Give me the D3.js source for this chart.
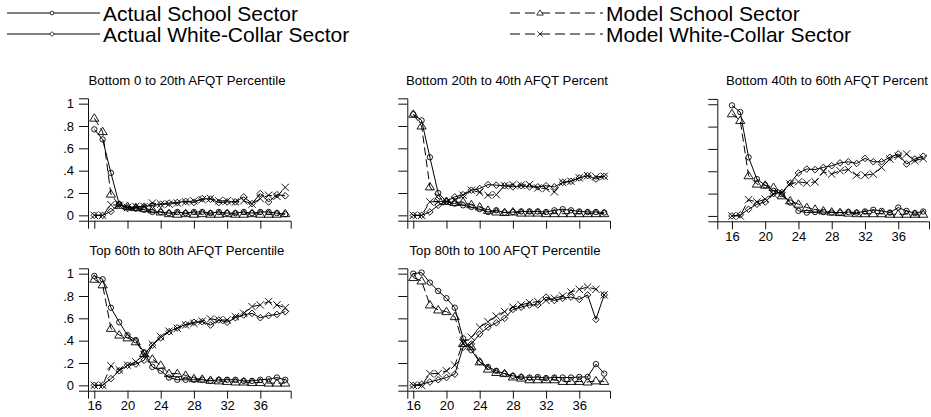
<!DOCTYPE html>
<html>
<head>
<meta charset="utf-8">
<script src="https://cdn.jsdelivr.net/npm/d3@7"></script>
<style>
  body { margin: 0; background: #fff; }
  svg { display: block; }
  text { font-family: "Liberation Sans", Arial, sans-serif; fill: #000; }
</style>
</head>
<body>
<div id="chart"></div>
<script>
// Ages on the x axis
const ages = [16, 17, 18, 19, 20, 21, 22, 23, 24, 25, 26, 27, 28, 29, 30, 31, 32, 33, 34, 35, 36, 37, 38, 39];

const panelTitles = [
  "Bottom 0 to 20th AFQT Percentile",
  "Bottom 20th to 40th AFQT Percent",
  "Bottom 40th to 60th AFQT Percent",
  "Top 60th to 80th AFQT Percentile",
  "Top 80th to 100 AFQT Percentile"
];

const yTickValues = [0, 0.2, 0.4, 0.6, 0.8, 1];
const yTickLabels = ["0", ".2", ".4", ".6", ".8", "1"];
const xTickValues = [16, 20, 24, 28, 32, 36];

const seriesNames = ["Actual School Sector", "Actual White-Collar Sector", "Model School Sector", "Model White-Collar Sector"];

// one row per panel (ages 16..39)
const schoolActual = [
  [0.77, 0.68, 0.38, 0.10, 0.07, 0.06, 0.05, 0.03, 0.03, 0.02, 0.03, 0.02, 0.03, 0.03, 0.02, 0.03, 0.02, 0.02, 0.03, 0.02, 0.03, 0.03, 0.02, 0.01],
  [0.905, 0.85, 0.52, 0.20, 0.125, 0.105, 0.09, 0.075, 0.055, 0.03, 0.045, 0.025, 0.03, 0.035, 0.035, 0.035, 0.03, 0.045, 0.055, 0.045, 0.035, 0.03, 0.03, 0.025],
  [0.99, 0.93, 0.525, 0.33, 0.275, 0.225, 0.195, 0.12, 0.045, 0.03, 0.035, 0.035, 0.03, 0.03, 0.035, 0.03, 0.04, 0.055, 0.045, 0.03, 0.075, 0.045, 0.025, 0.04],
  [0.98, 0.95, 0.695, 0.565, 0.45, 0.405, 0.295, 0.165, 0.13, 0.07, 0.05, 0.05, 0.05, 0.05, 0.04, 0.05, 0.05, 0.05, 0.04, 0.04, 0.05, 0.055, 0.07, 0.05],
  [1.0, 1.01, 0.92, 0.845, 0.78, 0.695, 0.42, 0.315, 0.21, 0.165, 0.13, 0.105, 0.085, 0.075, 0.07, 0.075, 0.065, 0.07, 0.07, 0.07, 0.075, 0.075, 0.19, 0.105]
];
const whiteActual = [
  [0, 0, 0.035, 0.10, 0.06, 0.07, 0.08, 0.09, 0.10, 0.11, 0.115, 0.125, 0.115, 0.15, 0.145, 0.115, 0.12, 0.12, 0.165, 0.105, 0.195, 0.12, 0.185, 0.175],
  [0, 0, 0.03, 0.09, 0.125, 0.165, 0.185, 0.225, 0.24, 0.275, 0.27, 0.265, 0.255, 0.265, 0.255, 0.255, 0.265, 0.255, 0.295, 0.305, 0.335, 0.355, 0.325, 0.35],
  [0, 0.01, 0.06, 0.105, 0.125, 0.20, 0.21, 0.295, 0.385, 0.42, 0.415, 0.435, 0.45, 0.475, 0.485, 0.47, 0.515, 0.485, 0.485, 0.525, 0.555, 0.465, 0.51, 0.535],
  [0, 0, 0.06, 0.13, 0.18, 0.19, 0.225, 0.36, 0.425, 0.48, 0.515, 0.545, 0.565, 0.57, 0.54, 0.585, 0.565, 0.605, 0.63, 0.645, 0.605, 0.625, 0.635, 0.66],
  [0, 0.01, 0.03, 0.05, 0.07, 0.10, 0.34, 0.37, 0.46, 0.52, 0.56, 0.60, 0.68, 0.70, 0.72, 0.72, 0.79, 0.76, 0.78, 0.79, 0.77, 0.81, 0.59, 0.81]
];
const schoolModel = [
  [0.87, 0.75, 0.19, 0.09, 0.08, 0.07, 0.06, 0.05, 0.03, 0.015, 0.01, 0.015, 0.01, 0.015, 0.01, 0.01, 0.015, 0.01, 0.01, 0.015, 0.01, 0.01, 0.01, 0.015],
  [0.905, 0.80, 0.255, 0.15, 0.125, 0.115, 0.12, 0.095, 0.075, 0.045, 0.03, 0.025, 0.03, 0.02, 0.02, 0.02, 0.015, 0.015, 0.015, 0.015, 0.015, 0.015, 0.015, 0.015],
  [0.915, 0.855, 0.36, 0.285, 0.275, 0.255, 0.18, 0.135, 0.105, 0.075, 0.06, 0.045, 0.035, 0.03, 0.025, 0.02, 0.02, 0.02, 0.02, 0.015, 0.015, 0.015, 0.015, 0.015],
  [0.95, 0.90, 0.51, 0.45, 0.425, 0.39, 0.285, 0.235, 0.18, 0.105, 0.105, 0.09, 0.06, 0.055, 0.045, 0.04, 0.035, 0.03, 0.03, 0.025, 0.025, 0.02, 0.02, 0.02],
  [0.965, 0.935, 0.72, 0.675, 0.66, 0.615, 0.375, 0.345, 0.21, 0.145, 0.115, 0.105, 0.075, 0.065, 0.05, 0.05, 0.05, 0.05, 0.035, 0.035, 0.035, 0.03, 0.04, 0.035]
];
const whiteModel = [
  [0, 0, 0.095, 0.09, 0.07, 0.08, 0.08, 0.11, 0.10, 0.10, 0.11, 0.12, 0.13, 0.14, 0.15, 0.13, 0.13, 0.12, 0.13, 0.10, 0.15, 0.18, 0.17, 0.25],
  [0, 0, 0.12, 0.125, 0.12, 0.135, 0.18, 0.225, 0.205, 0.18, 0.185, 0.265, 0.275, 0.27, 0.275, 0.245, 0.24, 0.21, 0.295, 0.305, 0.335, 0.355, 0.345, 0.35],
  [0, 0, 0.145, 0.125, 0.15, 0.195, 0.205, 0.285, 0.305, 0.295, 0.305, 0.395, 0.375, 0.405, 0.415, 0.365, 0.365, 0.375, 0.435, 0.51, 0.535, 0.555, 0.495, 0.515],
  [0, 0, 0.175, 0.14, 0.18, 0.21, 0.275, 0.365, 0.435, 0.485, 0.51, 0.54, 0.555, 0.575, 0.595, 0.585, 0.585, 0.615, 0.645, 0.705, 0.72, 0.75, 0.72, 0.695],
  [0, 0, 0.105, 0.105, 0.13, 0.18, 0.38, 0.43, 0.52, 0.57, 0.62, 0.66, 0.70, 0.72, 0.74, 0.75, 0.76, 0.78, 0.80, 0.835, 0.86, 0.88, 0.86, 0.81]
];

const width = 931, height = 417;
const svg = d3.select("#chart").append("svg")
  .attr("width", width)
  .attr("height", height);

// marker shapes (hollow, Stata style)
const markers = {
  circle: (g, s) => g.append("circle").attr("r", 2.7 * s),
  diamond: (g, s) => g.append("path").attr("d", `M0,${-3.3 * s}L${3.3 * s},0L0,${3.3 * s}L${-3.3 * s},0Z`),
  triangle: (g, s) => g.append("path").attr("d", `M0,${-4.4 * s}L${4.6 * s},${3 * s}L${-4.6 * s},${3 * s}Z`),
  x: (g, s) => g.append("path").attr("d", `M${-3.7 * s},${-3.7 * s}L${3.7 * s},${3.7 * s}M${-3.7 * s},${3.7 * s}L${3.7 * s},${-3.7 * s}`)
};

const series = [
  { name: seriesNames[0], data: schoolActual, marker: "circle", dash: null },
  { name: seriesNames[1], data: whiteActual, marker: "diamond", dash: null },
  { name: seriesNames[2], data: schoolModel, marker: "triangle", dash: "8,4" },
  { name: seriesNames[3], data: whiteModel, marker: "x", dash: "8,4" }
];

// panel frames
const panels = [
  { xd: [15.24, 39.66], xr: [88, 290.7], yr: [220.7, 98.3], titleX: 187, yLab: true, xLab: false },
  { xd: [15.28, 39.7], xr: [407.3, 610], yr: [220.7, 98.3], titleX: 507, yLab: false, xLab: false },
  { xd: [14.24, 39.7], xr: [717.3, 929], yr: [221.3, 98.9], titleX: 827, yLab: false, xLab: true },
  { xd: [15.24, 39.66], xr: [88, 290.7], yr: [390.7, 268.3], titleX: 187, yLab: true, xLab: true },
  { xd: [15.28, 39.7], xr: [407.3, 610], yr: [390.7, 268.3], titleX: 505, yLab: false, xLab: true }
];

panels.forEach((p, i) => {
  const x = d3.scaleLinear().domain(p.xd).range(p.xr);
  const y = d3.scaleLinear().domain([-0.048, 1.048]).range(p.yr);
  const g = svg.append("g");

  // axes
  const yAxis = d3.axisLeft(y)
    .tickValues(yTickValues)
    .tickSize(9)
    .tickPadding(5)
    .tickFormat((d, k) => p.yLab ? yTickLabels[k] : "");
  g.append("g")
    .attr("transform", `translate(${p.xr[0]},0)`)
    .call(yAxis)
    .call(a => a.selectAll("text").style("font-size", "13px"));

  const xAxis = d3.axisBottom(x)
    .tickValues(xTickValues)
    .tickSize(8)
    .tickPadding(2)
    .tickFormat(d => p.xLab ? d : "");
  g.append("g")
    .attr("transform", `translate(0,${p.yr[0]})`)
    .call(xAxis)
    .call(a => a.selectAll("text").style("font-size", "13px"));

  g.selectAll(".domain, .tick line").attr("stroke", "#111").attr("stroke-width", 1);
  g.selectAll(".tick text").attr("fill", "#000").style("font-family", "'Liberation Sans', Arial, sans-serif");

  // title
  g.append("text")
    .attr("x", p.titleX)
    .attr("y", p.yr[1] - 13.5)
    .attr("text-anchor", "middle")
    .style("font-size", "13.2px")
    .text(panelTitles[i]);

  // series
  series.forEach(s => {
    const vals = ages.map((a, k) => ({ age: a, v: s.data[i][k] }));
    const line = d3.line().x(d => x(d.age)).y(d => y(d.v));
    g.append("path")
      .datum(vals)
      .attr("d", line)
      .attr("fill", "none")
      .attr("stroke", "#000")
      .attr("stroke-width", 1)
      .attr("stroke-dasharray", s.dash);

    const m = g.append("g").selectAll("g")
      .data(vals)
      .join("g")
      .attr("transform", d => `translate(${x(d.age)},${y(d.v)})`)
      .attr("fill", "none")
      .attr("stroke", "#000")
      .attr("stroke-width", 0.9);
    m.each(function () { markers[s.marker](d3.select(this), 1); });
  });
});

// legend
const legendPos = [
  { x1: 7, x2: 100, mx: 52, tx: 103, y: 13 },
  { x1: 7, x2: 100, mx: 52, tx: 103, y: 34 },
  { x1: 510, x2: 603, mx: 540, tx: 606, y: 13 },
  { x1: 510, x2: 603, mx: 540, tx: 606, y: 34 }
];
series.forEach((s, k) => {
  const p = legendPos[k];
  const lg = svg.append("g");
  lg.append("line")
    .attr("x1", p.x1).attr("x2", p.x2)
    .attr("y1", p.y).attr("y2", p.y)
    .attr("stroke", "#000")
    .attr("stroke-width", 1)
    .attr("stroke-dasharray", s.dash ? "10,5" : null);
  const mk = lg.append("g")
    .attr("transform", `translate(${p.mx},${p.y})`)
    .attr("fill", "#fff")
    .attr("stroke", "#000")
    .attr("stroke-width", 0.8);
  markers[s.marker](mk, 0.7);
  lg.append("text")
    .attr("x", p.tx)
    .attr("y", p.y + 7.5)
    .style("font-size", "21px")
    .text(s.name);
});
</script>
</body>
</html>
